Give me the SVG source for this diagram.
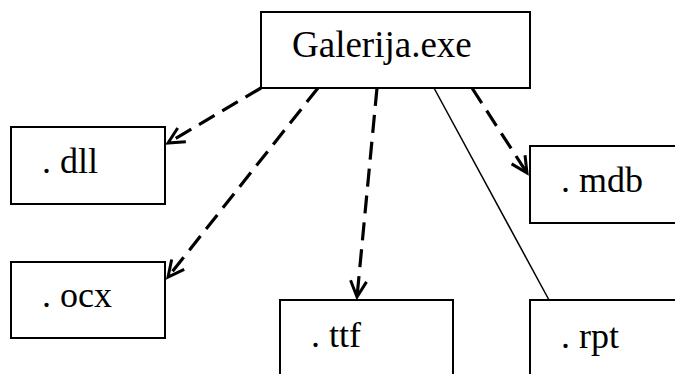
<svg xmlns="http://www.w3.org/2000/svg" width="675" height="374" viewBox="0 0 675 374">
<style>
.box{fill:#fff;stroke:#000;stroke-width:2}
.lbl{font-family:'Liberation Serif','Times New Roman',serif;font-size:36px;fill:#000}
.dash{fill:none;stroke:#000;stroke-width:3.2;stroke-dasharray:18 9;marker-end:url(#arr)}
.solid{fill:none;stroke:#000;stroke-width:1.5}
</style>
<defs>
<marker id="arr" markerUnits="userSpaceOnUse" viewBox="-20 -10 24 20" refX="0" refY="0" markerWidth="24" markerHeight="20" orient="auto" overflow="visible">
<path d="M-16,-8 L0,0 L-16,8" fill="none" stroke="#000" stroke-width="3"/>
</marker>
</defs>
<rect width="675" height="374" fill="#fff"/>
<g id="connectors">
<line class="dash" x1="261" y1="88" x2="168" y2="143"/>
<line class="dash" x1="318" y1="88" x2="168" y2="277"/>
<line class="dash" x1="377" y1="88" x2="357" y2="297"/>
<line class="dash" x1="472" y1="88" x2="527" y2="173"/>
<line class="solid" x1="434" y1="88" x2="549" y2="300"/>
</g>
<g id="galerija">
<rect class="box" x="261" y="12" width="269" height="76"/>
<text class="lbl" x="292" y="57" style="font-size:37px">Galerija.exe</text>
</g>
<g id="dll">
<rect class="box" x="11" y="127" width="154" height="77"/>
<text class="lbl" x="42" y="173">. dll</text>
</g>
<g id="ocx">
<rect class="box" x="11" y="262" width="154" height="76"/>
<text class="lbl" x="42" y="307">. ocx</text>
</g>
<g id="mdb">
<rect class="box" x="530" y="146" width="160" height="77"/>
<text class="lbl" x="561" y="192">. mdb</text>
</g>
<g id="ttf">
<rect class="box" x="280" y="300" width="173" height="90"/>
<text class="lbl" x="311" y="347">. ttf</text>
</g>
<g id="rpt">
<rect class="box" x="530" y="300" width="160" height="90"/>
<text class="lbl" x="561" y="348">. rpt</text>
</g>
</svg>
